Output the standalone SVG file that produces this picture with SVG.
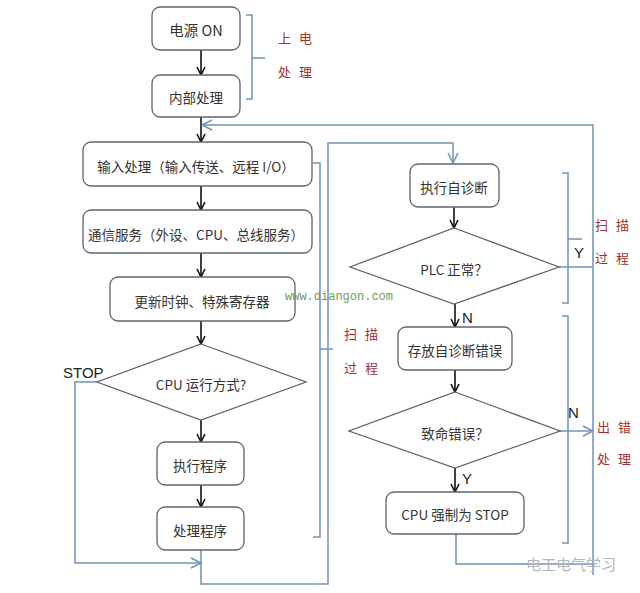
<svg xmlns="http://www.w3.org/2000/svg" width="640" height="593" viewBox="0 0 640 593">
<style>
.box{fill:#fff;stroke:#5d6470;stroke-width:1.3}
.t{font-family:"Noto Sans CJK SC","Liberation Sans",sans-serif;font-size:13.5px;fill:#333;text-anchor:middle;dominant-baseline:central}
.lbl{font-family:"Liberation Sans","Noto Sans CJK SC",sans-serif;font-size:15px;fill:#222;dominant-baseline:central}
.red{font-family:"Noto Sans CJK SC",sans-serif;font-size:13px;fill:#a0302e;letter-spacing:8px;dominant-baseline:central}
.k{fill:none;stroke:#111;stroke-width:1.6}
.b{fill:none;stroke:#6f93b8;stroke-width:1.5}
.wm{font-family:"Liberation Mono",monospace;font-size:12px;fill:#6a9a6a}
.wm2{font-family:"Noto Sans CJK SC",sans-serif;font-size:15px;fill:#b5b5b5}
</style>
<defs>
<marker id="ak" viewBox="0 0 10 10" refX="9" refY="5" markerWidth="10" markerHeight="10" markerUnits="userSpaceOnUse" orient="auto"><path d="M1,1 L9,5 L1,9" fill="none" stroke="#111" stroke-width="1.6"/></marker>
<marker id="abl" viewBox="0 0 12 12" refX="11" refY="6" markerWidth="12" markerHeight="12" markerUnits="userSpaceOnUse" orient="auto"><path d="M1,1 L11,6 L1,11" fill="none" stroke="#6f93b8" stroke-width="1.5"/></marker>
</defs>

<g id="connectors">
<line class="k" x1="201" y1="50" x2="201" y2="75" marker-end="url(#ak)"/>
<line class="k" x1="201" y1="117" x2="201" y2="142" marker-end="url(#ak)"/>
<line class="k" x1="201" y1="186" x2="201" y2="210" marker-end="url(#ak)"/>
<line class="k" x1="201" y1="253" x2="201" y2="277" marker-end="url(#ak)"/>
<line class="k" x1="201" y1="321" x2="201" y2="344" marker-end="url(#ak)"/>
<line class="k" x1="201" y1="420" x2="201" y2="442" marker-end="url(#ak)"/>
<line class="k" x1="201" y1="485" x2="201" y2="507" marker-end="url(#ak)"/>
<line class="k" x1="454" y1="207" x2="454" y2="228" marker-end="url(#ak)"/>
<line class="k" x1="455" y1="304" x2="455" y2="327" marker-end="url(#ak)"/>
<line class="k" x1="455" y1="370" x2="455" y2="392" marker-end="url(#ak)"/>
<line class="k" x1="455" y1="468" x2="455" y2="492" marker-end="url(#ak)"/>
<path class="b" d="M97,382 H75 V563 H201" marker-end="url(#abl)"/>
<path class="b" d="M201,550 V584 H328 V143 H453 V163" marker-end="url(#abl)"/>
<path class="b" d="M456,534 V564 H593"/>
<path class="b" d="M593,575 V125 H202" marker-end="url(#abl)"/>
<line class="b" x1="559" y1="267" x2="593" y2="267"/>
<line class="b" x1="560" y1="431" x2="593" y2="431" marker-end="url(#abl)"/>
<path class="b" d="M246,15 H252 V99 H246 M252,58 H265"/>
<path class="b" d="M313,163 H320 V537 H313 M320,349 H333"/>
<path class="b" d="M562,173 H568 V303 H562 M568,239 H582"/>
<path class="b" d="M562,316 H568 V543 H562"/>
</g>

<g id="n_power"><rect class="box" x="152" y="7" width="88" height="43" rx="8"/><text class="t" x="196" y="29" style="font-size:14.5px">电源 ON</text></g>
<g id="n_internal"><rect class="box" x="152" y="75" width="88" height="42" rx="8"/><text class="t" x="196" y="97">内部处理</text></g>
<g id="n_input"><rect class="box" x="83" y="142" width="229" height="44" rx="8"/><text class="t" x="196" y="166">输入处理（输入传送、远程 I/O）</text></g>
<g id="n_comm"><rect class="box" x="83" y="210" width="229" height="43" rx="8"/><text class="t" x="196" y="234">通信服务（外设、CPU、总线服务）</text></g>
<g id="n_clock"><rect class="box" x="110" y="277" width="185" height="44" rx="8"/><text class="t" x="202" y="301">更新时钟、特殊寄存器</text></g>
<g id="n_cpumode"><polygon class="box" points="201,344 306,382 201,420 97,382"/><text class="t" x="201" y="384">CPU 运行方式?</text></g>
<g id="n_exec"><rect class="box" x="157" y="442" width="87" height="43" rx="8"/><text class="t" x="200" y="465">执行程序</text></g>
<g id="n_proc"><rect class="box" x="157" y="507" width="87" height="43" rx="8"/><text class="t" x="200" y="530">处理程序</text></g>
<g id="n_selfdiag"><rect class="box" x="410" y="164" width="89" height="43" rx="8"/><text class="t" x="454" y="187">执行自诊断</text></g>
<g id="n_plc"><polygon class="box" points="454,228 559,267 454,304 350,267"/><text class="t" x="454" y="269">PLC 正常？</text></g>
<g id="n_store"><rect class="box" x="398" y="327" width="114" height="43" rx="8"/><text class="t" x="455" y="350">存放自诊断错误</text></g>
<g id="n_fatal"><polygon class="box" points="455,392 560,431 455,468 349,431"/><text class="t" x="455" y="433">致命错误？</text></g>
<g id="n_stop"><rect class="box" x="386" y="492" width="138" height="42" rx="8"/><text class="t" x="455" y="514">CPU 强制为 STOP</text></g>

<g id="labels">
<text class="lbl" x="63" y="372">STOP</text>
<text class="lbl" x="574" y="252">Y</text>
<text class="lbl" x="462" y="317">N</text>
<text class="lbl" x="568" y="412">N</text>
<text class="lbl" x="462" y="478">Y</text>
<text class="red" x="278" y="37">上电</text>
<text class="red" x="278" y="71">处理</text>
<text class="red" x="344" y="333">扫描</text>
<text class="red" x="344" y="367">过程</text>
<text class="red" x="595" y="224">扫描</text>
<text class="red" x="595" y="257">过程</text>
<text class="red" x="597" y="426">出错</text>
<text class="red" x="597" y="458">处理</text>
<text class="wm" x="285" y="300">www.diangon.com</text>
<text class="wm2" x="526" y="570">电工电气学习</text>
</g>
</svg>
